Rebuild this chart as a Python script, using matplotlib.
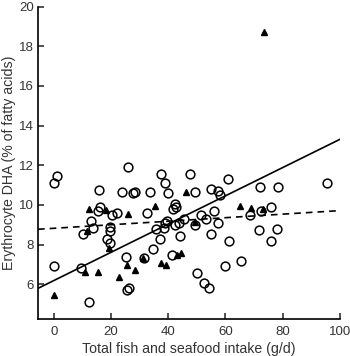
import numpy as np
import matplotlib
matplotlib.use('Agg')
import matplotlib.pyplot as plt

plt.rcParams['font.family'] = ['Liberation Sans', 'DejaVu Sans']

# open circles
circ_x = [1.2, 0.1, 25.8, 15.7, 23.9, 27.6, 28.5, 16.2, 15.4, 20.2, 21.9, 12.9, 13.6, 10.3,
          19.6, 19.7, 18.5, 19.6, 0.1, 9.4, 25.3, 25.5, 26.2, 12.2,
          37.5, 47.5, 38.8, 60.8, 33.7, 39.9, 49.5, 55.0, 57.5, 58.0, 42.5, 42.8, 41.5, 32.4,
          51.6, 53.3, 55.9, 57.3, 39.5, 38.7, 45.4, 43.6, 42.2, 49.5, 35.8, 38.4, 55.0, 37.0,
          44.0, 61.4, 34.5, 31.6, 41.2, 50.0, 52.5, 54.2, 60.0,
          72.0, 78.5, 95.7, 72.5, 76.0, 68.5, 71.7, 78.2, 75.8, 65.3]
circ_y = [11.46, 11.1, 11.9, 10.77, 10.67, 10.58, 10.67, 9.88, 9.68, 9.49, 9.58, 9.17, 8.85, 8.53,
          8.87, 8.70, 8.3, 8.06, 6.92, 6.8, 7.36, 5.71, 5.81, 5.09,
          11.56, 11.56, 11.09, 11.29, 10.67, 10.58, 10.67, 10.79, 10.69, 10.48, 10.03, 9.88, 9.78, 9.61,
          9.49, 9.27, 9.69, 9.07, 9.19, 9.1, 9.27, 9.07, 8.97, 8.97, 8.77, 8.85, 8.53, 8.3,
          8.43, 8.2, 7.78, 7.31, 7.49, 6.58, 6.08, 5.8, 6.92,
          10.89, 10.89, 11.09, 9.71, 9.91, 9.49, 8.72, 8.77, 8.18, 7.19]

# filled triangles
tri_x = [12.2, 18.2, 26.0, 11.7, 19.1, 10.7, 15.5, 22.7, 25.5, 28.5, 0.0, 46.1, 35.4, 49.5,
         31.1, 43.0, 44.6, 37.5, 39.1, 65.0, 69.1, 73.2, 73.6]
tri_y = [9.81, 9.74, 9.56, 8.66, 7.81, 6.63, 6.63, 6.35, 6.97, 6.73, 5.44, 10.65, 9.94, 9.15,
         7.32, 7.47, 7.59, 7.06, 6.96, 9.96, 9.86, 9.79, 18.7]

# regression lines (intercept, slope)
fit_all = (6.19, 0.0711)
fit_dash = (8.82, 0.0089)

fig = plt.figure(figsize=(3.5, 3.56), dpi=100)
ax = fig.add_axes([0.1086, 0.103, 0.862, 0.8787])

xl = np.array([-5.6, 100])
ax.plot(xl, fit_all[0] + fit_all[1] * xl, color='black', lw=1.2, zorder=1)
ax.plot(xl, fit_dash[0] + fit_dash[1] * xl, color='black', lw=1.2, ls=(0, (4, 3)), zorder=1)

ax.plot(circ_x, circ_y, 'o', ms=6.3, mfc='none', mec='black', mew=1.1, zorder=2)
ax.plot(tri_x, tri_y, '^', ms=4.5, color='black', zorder=3)

ax.set_xlim(-5.6, 100)
ax.set_ylim(4.23, 20)
ax.set_xticks([0, 20, 40, 60, 80, 100])
ax.set_yticks([6, 8, 10, 12, 14, 16, 18, 20])
ax.spines['top'].set_visible(False)
ax.spines['right'].set_visible(False)
ax.spines['left'].set_linewidth(1.2)
ax.spines['bottom'].set_linewidth(1.2)
ax.tick_params(direction='in', length=4, width=1.2, labelsize=9.5, colors='#333333',
               labelcolor='#333333')
ax.tick_params(axis='x', pad=5)
ax.tick_params(axis='y', pad=3)

ax.set_xlabel('Total fish and seafood intake (g/d)', fontsize=10.2, color='#333333', labelpad=3)
ax.set_ylabel('Erythrocyte DHA (% of fatty acids)', fontsize=10.2, color='#333333', labelpad=2)

fig.savefig('out.png', dpi=100)
